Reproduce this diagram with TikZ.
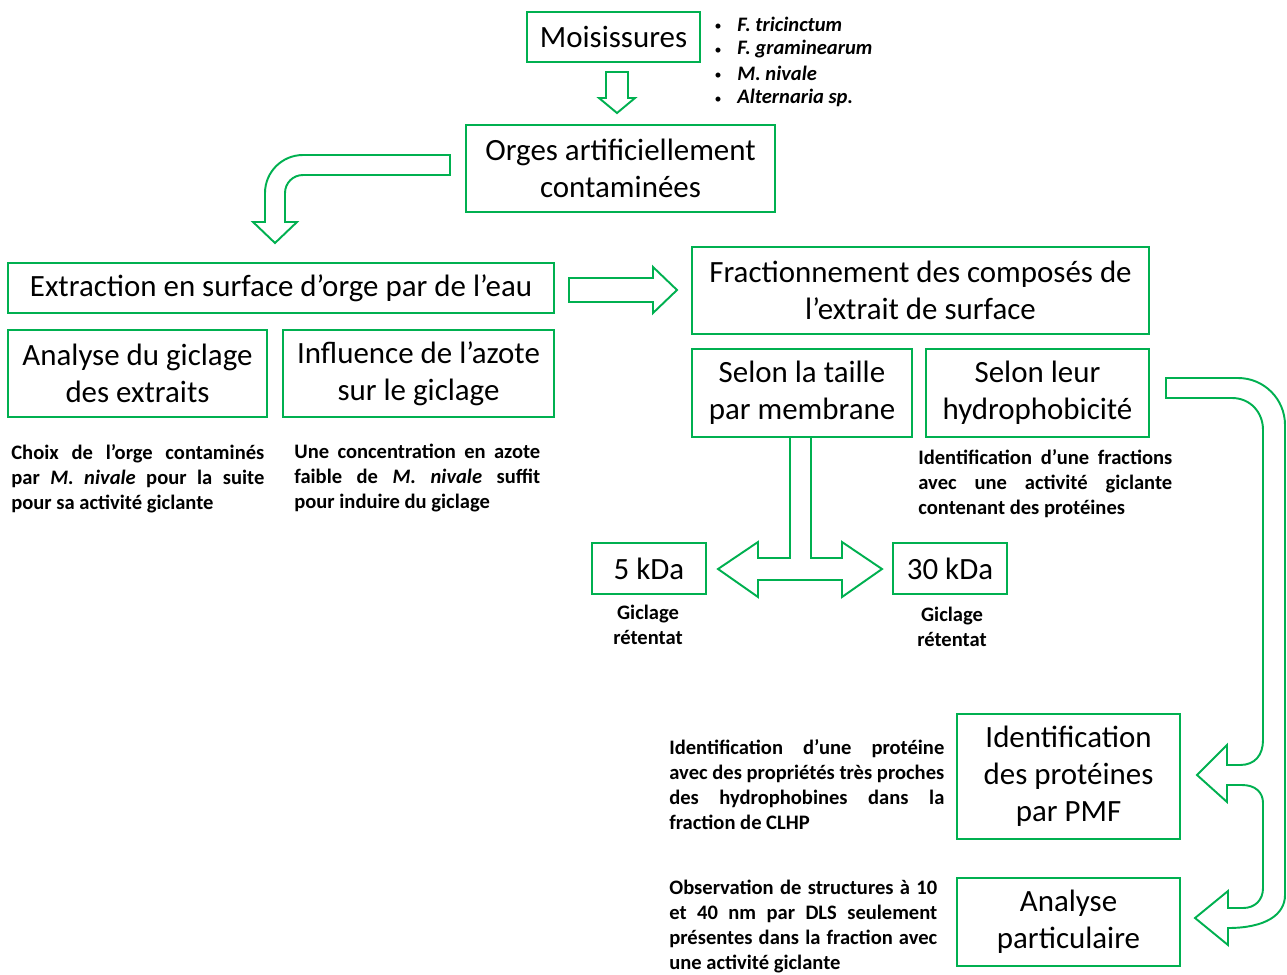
\documentclass[tikz,border=0pt]{standalone}
\usepackage{fontspec}
\setmainfont{Carlito}
\definecolor{ppgreen}{RGB}{0,176,80}
\tikzset{
  bloc/.style={draw=ppgreen, line width=1.1pt, align=center, inner sep=0pt,
    font=\fontsize{17.6}{21}\selectfont},
  note/.style={anchor=north west, inner sep=0pt, align=justify,
    font=\bfseries\fontsize{11.7}{14.2}\selectfont},
  legende/.style={inner sep=0pt, align=center,
    font=\bfseries\fontsize{11.7}{14.2}\selectfont},
  fleche/.style={draw=ppgreen, line width=1.1pt, fill=white, line join=miter},
}
\begin{document}
\begin{tikzpicture}[x=0.02cm, y=-0.02cm]
  \useasboundingbox (0,0) rectangle (1287,974);

  % boites
  \node[bloc, minimum width=3.46cm, minimum height=1cm] (moisi) at (613.5,37) {Moisissures};
  \node[bloc, minimum width=6.18cm, minimum height=1.74cm] (orges) at (620.5,168.5) {Orges artificiellement\\contaminées};
  \node[bloc, minimum width=10.92cm, minimum height=1cm] (extr) at (281,288) {Extraction en surface d’orge par de l’eau};
  \node[bloc, minimum width=9.14cm, minimum height=1.74cm] (fract) at (920.5,290.5) {Fractionnement des composés de\\l’extrait de surface};
  \node[bloc, minimum width=5.18cm, minimum height=1.74cm] (anagic) at (137.5,373.5) {Analyse du giclage\\des extraits};
  \node[bloc, minimum width=5.42cm, minimum height=1.74cm] (influ) at (418.5,373.5) {Influence de l’azote\\sur le giclage};
  \node[bloc, minimum width=4.4cm, minimum height=1.76cm] (taille) at (802,393) {Selon la taille\\par membrane};
  \node[bloc, minimum width=4.46cm, minimum height=1.76cm] (hydro) at (1037.5,393) {Selon leur\\hydrophobicité};
  \node[bloc, minimum width=2.28cm, minimum height=1.02cm] (kda5) at (649,568.5) {5 kDa};
  \node[bloc, minimum width=2.28cm, minimum height=1.02cm] (kda30) at (950,568.5) {30 kDa};
  \node[bloc, minimum width=4.46cm, minimum height=2.5cm] (pmf) at (1068.5,776.5) {Identification\\des protéines\\par PMF};
  \node[bloc, minimum width=4.46cm, minimum height=1.76cm] (partic) at (1068.5,922) {Analyse\\particulaire};

  % liste des moisissures
  \foreach \i/\nom in {1/F. tricinctum, 2/F. graminearum, 3/M. nivale, 4/Alternaria sp.} {
    \node[inner sep=0pt, font=\fontsize{8}{10}\selectfont] (puce\i) at (718,{24.5*\i+2.5}) {•};
    \node[legende, anchor=west] (esp\i) at (737,{24.5*\i}) {\textit{\nom}};
  }

  % textes
  \node[note, text width=5.06cm] (choix) at (11,444) {Choix de l’orge contaminés\linebreak par \textit{M. nivale} pour la suite\linebreak pour sa activité giclante};
  \node[note, text width=4.92cm] (azote) at (294,444) {Une concentration en azote\linebreak faible de \textit{M. nivale} suffit\linebreak pour induire du giclage};
  \node[note, text width=5.08cm] (fracid) at (918,449) {Identification d’une fractions\linebreak avec une activité giclante\linebreak contenant des protéines};
  \node[legende] (gicl5) at (648,625) {Giclage\\rétentat};
  \node[legende] (gicl30) at (952,627) {Giclage\\rétentat};
  \node[note, text width=5.5cm] (protid) at (669,739) {Identification d’une protéine\linebreak avec des propriétés très proches\linebreak des hydrophobines dans la\linebreak fraction de CLHP};
  \node[note, text width=5.36cm] (obs) at (669,880) {Observation de structures à 10\linebreak et 40 nm par DLS seulement\linebreak présentes dans la fraction avec\linebreak une activité giclante};

  % fleches
  \draw[fleche] (606,72) -- (628,72) -- (628,98) -- (635,98) -- (617,113) -- (599,98) -- (606,98) -- cycle;
  \draw[fleche] (450,155) -- (303,155) .. controls (282,155) and (265,172) .. (265,193)
    -- (265,222) -- (253,222) -- (275,243) -- (297,222) -- (285,222) -- (285,193)
    .. controls (285,183) and (293,175) .. (303,175) -- (450,175) -- cycle;
  \draw[fleche] (569,278) -- (653,278) -- (653,267) -- (677,290) -- (653,313) -- (653,302) -- (569,302) -- cycle;
  \draw[fleche] (790,438) -- (790,558) -- (758,558) -- (758,542) -- (718,569) -- (758,597)
    -- (758,580) -- (842,580) -- (842,597) -- (882,569) -- (842,542) -- (842,558) -- (811,558) -- (811,438);
  \draw[fleche] (1166,378) -- (1238,378) .. controls (1264,378) and (1285,399) .. (1285,425)
    -- (1285,895) .. controls (1285,915) and (1265,928) .. (1228,928)
    -- (1228,945) -- (1195,918) -- (1228,891) -- (1228,908) -- (1243,908)
    .. controls (1255,908) and (1263,900) .. (1263,888) -- (1263,803)
    .. controls (1263,792) and (1255,785) .. (1242,785)
    -- (1227,785) -- (1227,802) -- (1197,775) -- (1227,745) -- (1227,765) -- (1240,765)
    .. controls (1255,765) and (1263,755) .. (1263,740) -- (1263,430)
    .. controls (1263,412) and (1250,398) .. (1232,398) -- (1166,398) -- cycle;
\end{tikzpicture}
\end{document}
